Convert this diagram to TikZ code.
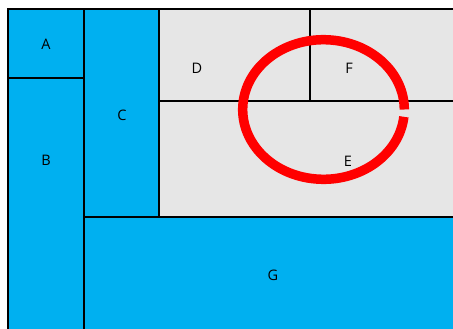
\documentclass[tikz,border=0pt]{standalone}
\usepackage{fontspec}
\setmainfont{Open Sans}
\definecolor{cellblue}{HTML}{00B0F0}
\definecolor{cellgrey}{HTML}{E6E6E6}
\tikzset{
  cell/.style={rectangle, draw=black, line width=2pt, anchor=north west, inner sep=0pt, outer sep=0pt},
  bluecell/.style={cell, fill=cellblue},
  greycell/.style={cell, fill=cellgrey},
  celltext/.style={font=\fontsize{14.5}{17}\selectfont, text=black},
  ring/.style={draw=red, line width=9.5pt}
}
\begin{document}
\begin{tikzpicture}[x=1pt, y=-1pt]
\path[use as bounding box] (0,0) rectangle (453,329);
\clip (0,0) rectangle (453,329);
\fill[white] (0,0) rectangle (453,329);

% cells
\node[bluecell, minimum width=76pt, minimum height=69pt] (a) at (8,9) {};
\node[bluecell, minimum width=76pt, minimum height=270pt] (b) at (8,78) {};
\node[bluecell, minimum width=75pt, minimum height=208pt] (c) at (84,9) {};
\node[greycell, minimum width=151pt, minimum height=92pt] (d) at (159,9) {};
\node[greycell, minimum width=160pt, minimum height=92pt] (f) at (310,9) {};
\node[greycell, minimum width=310pt, minimum height=116pt] (e) at (159,101) {};
\node[bluecell, minimum width=386pt, minimum height=130pt] (g) at (84,217) {};

% labels
\node[celltext] (la) at (46,44) {A};
\node[celltext] (lb) at (46,160) {B};
\node[celltext] (lc) at (122,115) {C};
\node[celltext] (ld) at (197,68) {D};
\node[celltext] (lf) at (349,68) {F};
\node[celltext] (le) at (348,161) {E};
\node[celltext] (lg) at (273,275) {G};

% open ring
\coordinate (ringc) at (323.5,109.5);
\draw[ring] ([shift={(6:80.8 and 69.8)}]ringc) arc[start angle=6, end angle=360, x radius=80.8, y radius=69.8];
\end{tikzpicture}
\end{document}
